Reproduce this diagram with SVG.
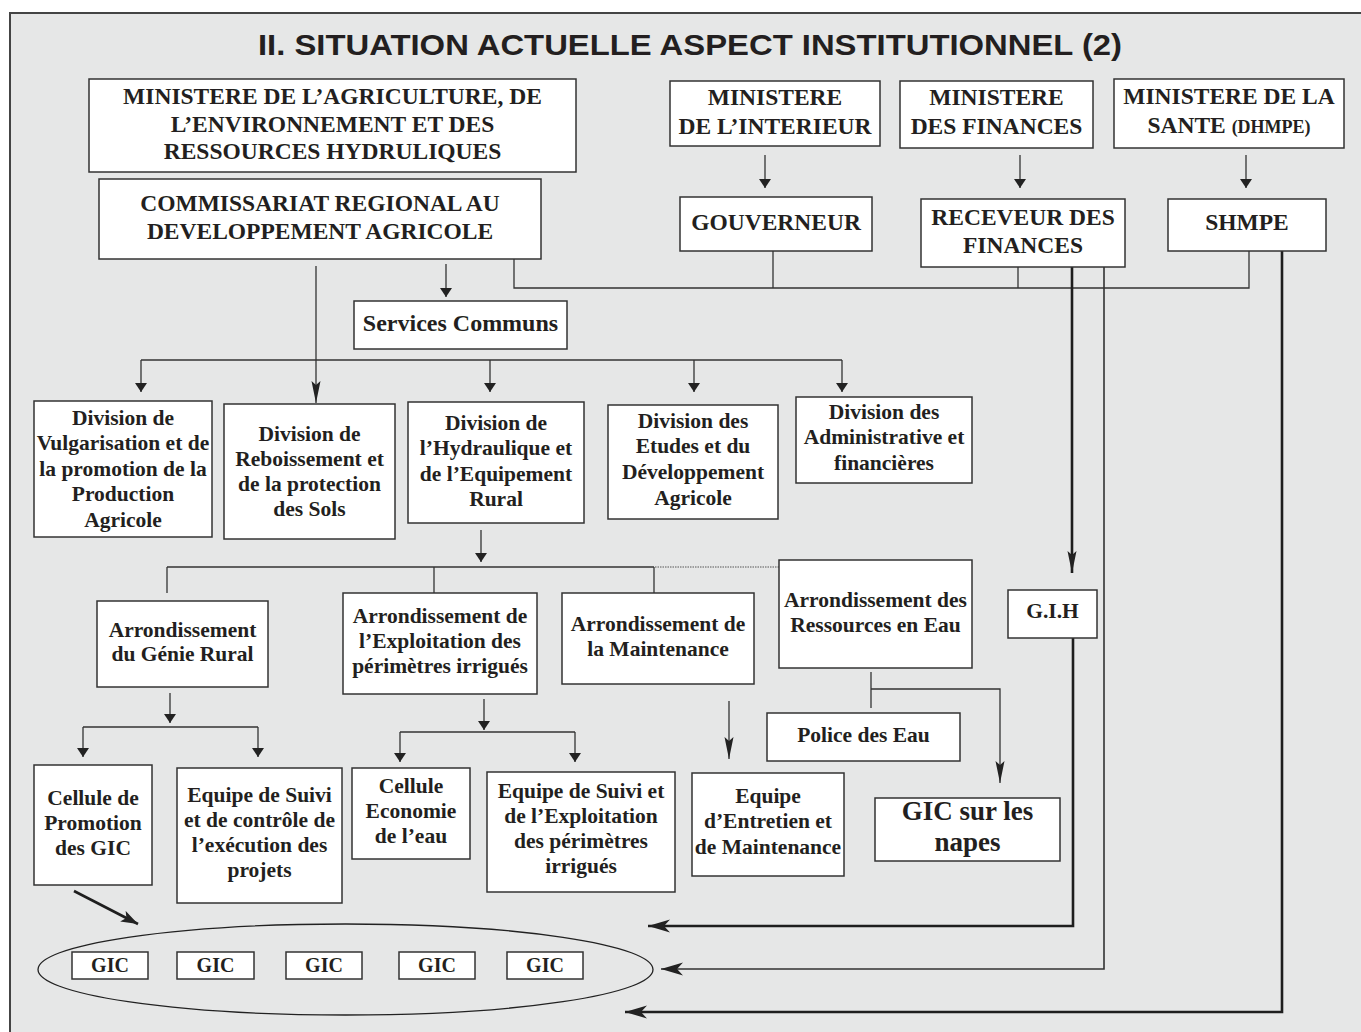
<svg xmlns="http://www.w3.org/2000/svg" width="1361" height="1032" viewBox="0 0 1361 1032">
<style>
.box{fill:#fff;stroke:#333;stroke-width:1.5}
.t{font-family:"Liberation Serif","Times New Roman",serif;font-weight:bold;fill:#231f20;text-anchor:middle}
.big{font-size:23.5px}
.mid{font-size:21.5px}
.c{fill:none;stroke:#333;stroke-width:1.3}
.thick{stroke:#1e1e1e;stroke-width:2.6}
.med{stroke:#333;stroke-width:1.6}
.dot{fill:none;stroke:#555;stroke-width:1;stroke-dasharray:1.5 1}
</style>
<defs>
<marker id="tri" markerUnits="userSpaceOnUse" markerWidth="10" markerHeight="12" refX="9" refY="6" orient="auto"><path d="M0,0 L9,6 L0,12 z" fill="#222"/></marker>
<marker id="tall" markerUnits="userSpaceOnUse" markerWidth="23" markerHeight="10" refX="22" refY="4.5" orient="auto"><path d="M0,0 L22,4.5 L0,9 L4,4.5 z" fill="#222"/></marker>
<marker id="barb" markerUnits="userSpaceOnUse" markerWidth="23" markerHeight="14" refX="22" refY="6.5" orient="auto"><path d="M0,0 L22,6.5 L0,13 L6,6.5 z" fill="#222"/></marker>
<marker id="diag" markerUnits="userSpaceOnUse" markerWidth="18" markerHeight="13" refX="17" refY="6" orient="auto"><path d="M0,0 L17,6 L0,12 L4,6 z" fill="#222"/></marker>
</defs>
<rect x="0" y="0" width="1361" height="1032" fill="#fff"/>
<rect x="10" y="13" width="1400" height="1100" fill="#e6e7e7" stroke="#444" stroke-width="2"/>
<g id="title"><text x="690" y="55" font-family="'Liberation Sans',Arial,sans-serif" font-weight="bold" font-size="30" fill="#231f20" text-anchor="middle" textLength="864" lengthAdjust="spacingAndGlyphs">II. SITUATION ACTUELLE ASPECT INSTITUTIONNEL (2)</text></g>

<g id="connectors">
<line class="c" x1="316" y1="266" x2="316" y2="403" marker-end="url(#tall)"/>
<line class="c" x1="446" y1="264" x2="446" y2="297" marker-end="url(#tri)"/>
<polyline class="c" points="514,259 514,288 1249,288 1249,251"/>
<line class="c" x1="773" y1="251" x2="773" y2="288"/>
<line class="c" x1="1018" y1="267" x2="1018" y2="288"/>
<line class="c" x1="765" y1="155" x2="765" y2="188" marker-end="url(#tri)"/>
<line class="c" x1="1020" y1="155" x2="1020" y2="188" marker-end="url(#tri)"/>
<line class="c" x1="1246" y1="155" x2="1246" y2="188" marker-end="url(#tri)"/>
<line class="c" x1="141" y1="360" x2="842" y2="360"/>
<line class="c" x1="141" y1="360" x2="141" y2="392" marker-end="url(#tri)"/>
<line class="c" x1="490" y1="360" x2="490" y2="392" marker-end="url(#tri)"/>
<line class="c" x1="694" y1="360" x2="694" y2="392" marker-end="url(#tri)"/>
<line class="c" x1="842" y1="360" x2="842" y2="392" marker-end="url(#tri)"/>
<line class="c" x1="481" y1="530" x2="481" y2="562" marker-end="url(#tri)"/>
<line class="c" x1="167" y1="567" x2="654" y2="567"/>
<line class="dot" x1="655" y1="567" x2="779" y2="567"/>
<line class="c" x1="167" y1="567" x2="167" y2="593"/>
<line class="c" x1="434" y1="567" x2="434" y2="593"/>
<line class="c" x1="654" y1="567" x2="654" y2="593"/>
<line class="c" x1="170" y1="693" x2="170" y2="723" marker-end="url(#tri)"/>
<line class="c" x1="83" y1="727" x2="258" y2="727"/>
<line class="c" x1="83" y1="727" x2="83" y2="757" marker-end="url(#tri)"/>
<line class="c" x1="258" y1="727" x2="258" y2="757" marker-end="url(#tri)"/>
<line class="c" x1="484" y1="699" x2="484" y2="730" marker-end="url(#tri)"/>
<line class="c" x1="400" y1="732" x2="575" y2="732"/>
<line class="c" x1="400" y1="732" x2="400" y2="762" marker-end="url(#tri)"/>
<line class="c" x1="575" y1="732" x2="575" y2="762" marker-end="url(#tri)"/>
<line class="c" x1="729" y1="701" x2="729" y2="759" marker-end="url(#tall)"/>
<line class="c" x1="871" y1="672" x2="871" y2="708"/>
<polyline class="c" points="871,689 1000,689 1000,783" marker-end="url(#tall)"/>
<line class="c thick" x1="1072" y1="267" x2="1072" y2="573" marker-end="url(#tall)"/>
<polyline class="c thick" points="1073,638 1073,926 648,926" marker-end="url(#barb)"/>
<polyline class="c med" points="1104,267 1104,969 661,969" marker-end="url(#barb)"/>
<polyline class="c thick" points="1282,249 1282,1012 625,1012" marker-end="url(#barb)"/>
<line class="c thick" x1="74" y1="891" x2="138" y2="924" marker-end="url(#diag)"/>
</g>

<g id="n-min-agri"><rect class="box" x="89" y="79" width="487" height="93"/>
<text class="t big" x="332.5" y="104">MINISTERE DE L’AGRICULTURE, DE</text>
<text class="t big" x="332.5" y="132">L’ENVIRONNEMENT ET DES</text>
<text class="t big" x="332.5" y="159">RESSOURCES HYDRULIQUES</text></g>
<g id="n-commissariat"><rect class="box" x="99" y="179" width="442" height="80"/>
<text class="t big" x="320" y="211">COMMISSARIAT REGIONAL AU</text>
<text class="t big" x="320" y="239">DEVELOPPEMENT AGRICOLE</text></g>
<g id="n-min-int"><rect class="box" x="670" y="81" width="210" height="65"/>
<text class="t big" x="775" y="105">MINISTERE</text>
<text class="t big" x="775" y="134">DE L’INTERIEUR</text></g>
<g id="n-min-fin"><rect class="box" x="900" y="81" width="193" height="67"/>
<text class="t big" x="996.5" y="105">MINISTERE</text>
<text class="t big" x="996.5" y="134">DES FINANCES</text></g>
<g id="n-min-sante"><rect class="box" x="1114" y="79" width="230" height="69"/>
<text class="t big" x="1229" y="104">MINISTERE DE LA</text>
<text class="t big" x="1229" y="133">SANTE <tspan font-size="18">(DHMPE)</tspan></text></g>
<g id="n-gouverneur"><rect class="box" x="680" y="197" width="192" height="54"/>
<text class="t big" x="776" y="230">GOUVERNEUR</text></g>
<g id="n-receveur"><rect class="box" x="921" y="199" width="204" height="68"/>
<text class="t big" x="1023" y="225">RECEVEUR DES</text>
<text class="t big" x="1023" y="253">FINANCES</text></g>
<g id="n-shmpe"><rect class="box" x="1168" y="199" width="158" height="52"/>
<text class="t big" x="1247" y="230">SHMPE</text></g>
<g id="n-services"><rect class="box" x="354" y="301" width="213" height="48"/>
<text class="t" font-size="24" x="460.5" y="331">Services Communs</text></g>
<g id="n-div-vulg"><rect class="box" x="34" y="401" width="178" height="136"/>
<text class="t mid" x="123" y="425">Division de</text>
<text class="t mid" x="123" y="450">Vulgarisation et de</text>
<text class="t mid" x="123" y="476">la promotion de la</text>
<text class="t mid" x="123" y="501">Production</text>
<text class="t mid" x="123" y="527">Agricole</text></g>
<g id="n-div-rebois"><rect class="box" x="224" y="404" width="171" height="135"/>
<text class="t mid" x="309.5" y="441">Division de</text>
<text class="t mid" x="309.5" y="466">Reboissement et</text>
<text class="t mid" x="309.5" y="491">de la protection</text>
<text class="t mid" x="309.5" y="516">des Sols</text></g>
<g id="n-div-hydro"><rect class="box" x="408" y="402" width="176" height="121"/>
<text class="t mid" x="496" y="430">Division de</text>
<text class="t mid" x="496" y="455">l’Hydraulique et</text>
<text class="t mid" x="496" y="481">de l’Equipement</text>
<text class="t mid" x="496" y="506">Rural</text></g>
<g id="n-div-etudes"><rect class="box" x="608" y="405" width="170" height="114"/>
<text class="t mid" x="693" y="428">Division des</text>
<text class="t mid" x="693" y="453">Etudes et du</text>
<text class="t mid" x="693" y="479">Développement</text>
<text class="t mid" x="693" y="505">Agricole</text></g>
<g id="n-div-admin"><rect class="box" x="796" y="397" width="176" height="86"/>
<text class="t mid" x="884" y="419">Division des</text>
<text class="t mid" x="884" y="444">Administrative et</text>
<text class="t mid" x="884" y="470">financières</text></g>
<g id="n-arr-genie"><rect class="box" x="97" y="601" width="171" height="86"/>
<text class="t mid" x="182.5" y="637">Arrondissement</text>
<text class="t mid" x="182.5" y="661">du Génie Rural</text></g>
<g id="n-arr-exploit"><rect class="box" x="343" y="593" width="194" height="101"/>
<text class="t mid" x="440" y="623">Arrondissement de</text>
<text class="t mid" x="440" y="648">l’Exploitation des</text>
<text class="t mid" x="440" y="673">périmètres irrigués</text></g>
<g id="n-arr-maint"><rect class="box" x="562" y="593" width="192" height="91"/>
<text class="t mid" x="658" y="631">Arrondissement de</text>
<text class="t mid" x="658" y="656">la Maintenance</text></g>
<g id="n-arr-ress"><rect class="box" x="779" y="560" width="193" height="108"/>
<text class="t mid" x="875.5" y="607">Arrondissement des</text>
<text class="t mid" x="875.5" y="632">Ressources en Eau</text></g>
<g id="n-gih"><rect class="box" x="1008" y="590" width="89" height="48"/>
<text class="t mid" x="1052.5" y="618">G.I.H</text></g>
<g id="n-police"><rect class="box" x="767" y="713" width="193" height="48"/>
<text class="t mid" x="863.5" y="742">Police des Eau</text></g>
<g id="n-cell-promo"><rect class="box" x="34" y="765" width="118" height="120"/>
<text class="t mid" x="93" y="805">Cellule de</text>
<text class="t mid" x="93" y="830">Promotion</text>
<text class="t mid" x="93" y="855">des GIC</text></g>
<g id="n-equipe-ctrl"><rect class="box" x="177" y="768" width="165" height="135"/>
<text class="t mid" x="259.5" y="802">Equipe de Suivi</text>
<text class="t mid" x="259.5" y="827">et de contrôle de</text>
<text class="t mid" x="259.5" y="852">l’exécution des</text>
<text class="t mid" x="259.5" y="877">projets</text></g>
<g id="n-cell-eco"><rect class="box" x="352" y="768" width="118" height="91"/>
<text class="t mid" x="411" y="793">Cellule</text>
<text class="t mid" x="411" y="818">Economie</text>
<text class="t mid" x="411" y="843">de l’eau</text></g>
<g id="n-equipe-exp"><rect class="box" x="487" y="772" width="188" height="120"/>
<text class="t mid" x="581" y="798">Equipe de Suivi et</text>
<text class="t mid" x="581" y="823">de l’Exploitation</text>
<text class="t mid" x="581" y="848">des périmètres</text>
<text class="t mid" x="581" y="873">irrigués</text></g>
<g id="n-equipe-entretien"><rect class="box" x="692" y="773" width="152" height="103"/>
<text class="t mid" x="768" y="803">Equipe</text>
<text class="t mid" x="768" y="828">d’Entretien et</text>
<text class="t mid" x="768" y="854">de Maintenance</text></g>
<g id="n-gic-napes"><rect class="box" x="875" y="798" width="185" height="63"/>
<text class="t" font-size="27" x="967.5" y="820">GIC sur les</text>
<text class="t" font-size="27" x="967.5" y="851">napes</text></g>
<g id="n-gic-group"><ellipse cx="345.5" cy="969.5" rx="307.5" ry="45.5" fill="none" stroke="#222" stroke-width="1.3"/>
<rect class="box" x="72" y="952" width="76" height="27"/><text class="t" font-size="20" x="110" y="972">GIC</text>
<rect class="box" x="177" y="952" width="77" height="27"/><text class="t" font-size="20" x="215.5" y="972">GIC</text>
<rect class="box" x="286" y="952" width="76" height="27"/><text class="t" font-size="20" x="324" y="972">GIC</text>
<rect class="box" x="399" y="952" width="76" height="27"/><text class="t" font-size="20" x="437" y="972">GIC</text>
<rect class="box" x="507" y="952" width="76" height="27"/><text class="t" font-size="20" x="545" y="972">GIC</text></g>
</svg>
